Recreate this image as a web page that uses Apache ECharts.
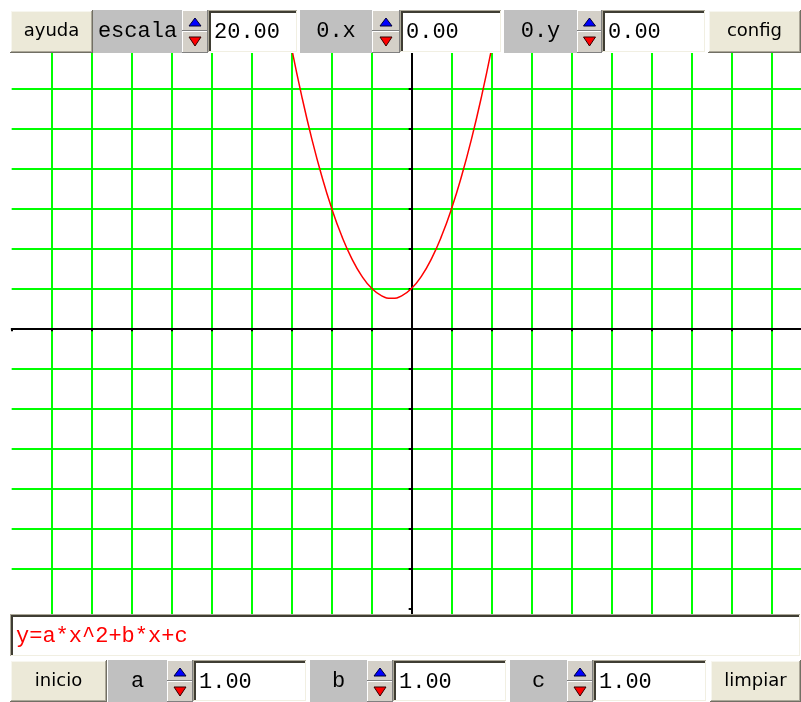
<!DOCTYPE html>
<html><head><meta charset="utf-8">
<script src="https://cdn.jsdelivr.net/npm/echarts@6/dist/echarts.min.js"></script>
<style>html,body{margin:0;padding:0;background:#fff;overflow:hidden;}#c{width:801px;height:702px;}</style>
</head><body><div id="c"></div>
<script>
// curve points of y = a*x^2 + b*x + c (a=1, b=1, c=1)
const xValues = [-3.25,-3,-2.75,-2.5,-2.25,-2,-1.75,-1.5,-1.25,-1,-0.75,-0.5,-0.25,0,0.25,0.5,0.75,1,1.25,1.5,1.75,2,2.25];
const yValues = [8.3125,7,5.8125,4.75,3.8125,3,2.3125,1.75,1.3125,1,0.8125,0.75,0.8125,1,1.3125,1.75,2.3125,3,3.8125,4.75,5.8125,7,8.3125];
const topTexts = ['ayuda','escala','20.00','0.x','0.00','0.y','0.00','config'];
const bottomTexts = ['inicio','a','1.00','b','1.00','c','1.00','limpiar'];
const formulaText = 'y=a*x^2+b*x+c';

const MONO = '22px "Liberation Mono", "DejaVu Sans Mono", monospace';
const SANS = '18px "DejaVu Sans", sans-serif';
const Z = 100;
const GREEN = '#00ff00';
const NONE = 'rgba(0,0,0,0)';

function rect(x,y,w,h,fill){return {type:'rect',shape:{x:x,y:y,width:w,height:h},style:{fill:fill},z:Z,silent:true};}
function bevel(x,y,w,h,tl,br){return [rect(x,y,w,1,tl),rect(x,y,1,h,tl),rect(x,y+h-1,w,1,br),rect(x+w-1,y,1,h,br)];}
function txt(x,y,s,font,fill,align){return {type:'text',x:x,y:y,style:{text:s,font:font,fill:fill,align:align,verticalAlign:'middle'},z:Z+1,silent:true};}

function button(x,y,w,h,s){
  let e=[rect(x,y,w,h,'#ece9d8')];
  e=e.concat(bevel(x,y,w,h,'#ffffff','#716f64'));
  e=e.concat(bevel(x+1,y+1,w-2,h-2,'#f7f6ef','#aca899'));
  e.push(txt(x+w/2,y+h/2,s,SANS,'#000','center'));
  return e;
}
function label(x,y,w,h,s){
  return [rect(x,y,w,h,'#c0c0c0'),txt(x+w/2,y+h/2,s,MONO,'#000','center')];
}
function field(x,y,w,h,s,color){
  let e=[rect(x,y,w,h,'#ffffff')];
  e=e.concat(bevel(x,y,w,h,'#aca899','#ffffff'));
  e.push(rect(x+1,y+1,w-2,2,'#3f3d33'));
  e.push(rect(x+1,y+1,2,h-2,'#3f3d33'));
  e.push(rect(x+1,y+h-2,w-2,1,'#f1efe2'));
  e.push(rect(x+w-2,y+1,1,h-2,'#f1efe2'));
  e.push(txt(x+6,y+h/2+1,s,MONO,color||'#000','left'));
  return e;
}
function spin(x,y,w,h){
  const hh=Math.floor(h/2);
  let e=[];
  [[y,hh],[y+hh,h-hh]].forEach(function(p){
    e.push(rect(x,p[0],w,p[1],'#d4d0c8'));
    e=e.concat(bevel(x,p[0],w,p[1],'#ffffff','#808080'));
  });
  const cx=x+w/2;
  e.push({type:'polygon',shape:{points:[[cx,y+8],[cx-6,y+16],[cx+6,y+16]]},style:{fill:'#0000ff',stroke:'#000033',lineWidth:1},z:Z+1,silent:true});
  e.push({type:'polygon',shape:{points:[[cx-6,y+hh+6],[cx+6,y+hh+6],[cx,y+hh+15]]},style:{fill:'#ff0000',stroke:'#330000',lineWidth:1},z:Z+1,silent:true});
  return e;
}

function bar(layout,y,h,texts){
  let e=[]; let ti=0;
  layout.forEach(function(it){
    const k=it[0],x=it[1],w=it[2];
    if(k==='button'){e=e.concat(button(x,y,w,h,texts[ti++]));}
    else if(k==='label'){e=e.concat(label(x,y,w,h,texts[ti++]));}
    else if(k==='field'){e=e.concat(field(x,y,w,h,texts[ti++]));}
    else {e=e.concat(spin(x,y,w,h));}
  });
  return e;
}

const topLayout=[['button',10,83],['label',93,89],['spin',182,26],['field',208,90],['label',300,72],['spin',372,28],['field',400,102],['label',504,73],['spin',577,25],['field',602,104],['button',708,93]];
const bottomLayout=[['button',10,97],['label',108,59],['spin',167,26],['field',193,114],['label',310,57],['spin',367,26],['field',393,114],['label',510,57],['spin',567,26],['field',593,114],['button',710,91]];

let elements=[];
elements=elements.concat(rect(0,0,801,10,'#ffffff'));
elements=elements.concat(bar(topLayout,10,43,topTexts));
elements.push(rect(0,614,801,88,'#ffffff'));
elements=elements.concat(field(10,614,791,43,formulaText,'#ff0000'));
elements=elements.concat(bar(bottomLayout,660,42,bottomTexts));

// horizontal grid colours: lines at y=-8 and y=-7 are not drawn in the original
const yLineColors=[NONE,NONE];
for(let i=0;i<14;i++){yLineColors.push(GREEN);}

const chart=echarts.init(document.getElementById('c'),null,{renderer:'canvas'});
chart.setOption({
  animation:false,
  backgroundColor:'#ffffff',
  grid:{left:11.67,top:48.33,width:800,height:600,outerBoundsMode:'none',containLabel:false},
  xAxis:{type:'value',min:-10,max:10,interval:1,
    axisLine:{show:true,onZero:true,lineStyle:{color:'#000',width:2}},
    axisTick:{show:true,length:3,lineStyle:{color:'#000',width:2}},
    axisLabel:{show:false},
    splitLine:{show:true,showMinLine:false,showMaxLine:false,lineStyle:{color:GREEN,width:2}}},
  yAxis:{type:'value',min:-8,max:7,interval:1,
    axisLine:{show:true,onZero:true,lineStyle:{color:'#000',width:2}},
    axisTick:{show:true,length:3,lineStyle:{color:'#000',width:2}},
    axisLabel:{show:false},
    splitLine:{show:true,showMinLine:true,showMaxLine:false,lineStyle:{color:yLineColors,width:2}}},
  series:[{type:'line',data:xValues.map(function(x,i){return [x,yValues[i]];}),
    smooth:true,showSymbol:false,clip:true,z:5,
    lineStyle:{color:'#ff0000',width:1.5}}],
  graphic:{elements:elements}
});
</script></body></html>
